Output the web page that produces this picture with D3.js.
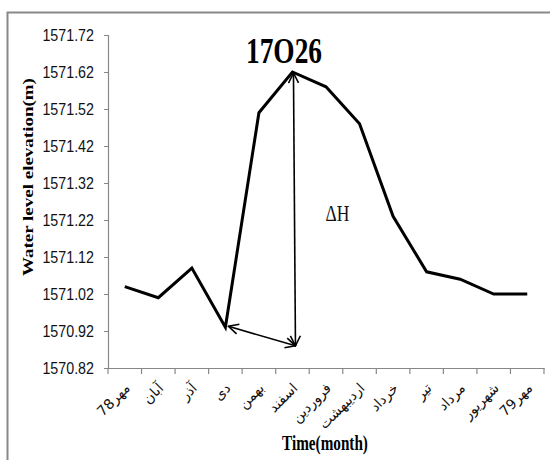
<!DOCTYPE html>
<html>
<head>
<meta charset="utf-8">
<script src="https://cdn.jsdelivr.net/npm/d3@7"></script>
<style>
  html, body { margin: 0; padding: 0; background: #fff; }
  svg { display: block; }
</style>
</head>
<body>
<svg id="chart" width="550" height="460"></svg>
<script>
// Monthly water level, well 17O26 (Mehr 1378 – Mehr 1379)
const months = ["مهر78", "آبان", "آذر", "دی", "بهمن", "اسفند", "فروردین", "اردیبهشت", "خرداد", "تیر", "مرداد", "شهریور", "مهر79"];
const levels = [1571.04, 1571.01, 1571.09, 1570.93, 1571.51, 1571.62, 1571.58, 1571.48, 1571.23, 1571.08, 1571.06, 1571.02, 1571.02];
const yTicks = [1570.82, 1570.92, 1571.02, 1571.12, 1571.22, 1571.32, 1571.42, 1571.52, 1571.62, 1571.72];
const wellName = "17O26";
const troughMonth = "دی";
const peakMonth = "اسفند";

const svg = d3.select("#chart");
const serif = "'Liberation Serif', 'Times New Roman', serif";
const squeeze = 0.76; // narrow horizontal proportion of the lettering

// outer frame (top and left edges)
svg.append("path")
  .attr("d", "M7.5,460 V12.5 H550")
  .attr("fill", "none").attr("stroke", "#888").attr("stroke-width", 2);

const x = d3.scaleBand().domain(months).range([108, 544]).padding(0);
const y = d3.scaleLinear().domain([1570.82, 1571.72]).range([368, 35]);
const cx = d => x(d) + x.bandwidth() / 2;

// axes
const yAxis = d3.axisLeft(y).tickValues(yTicks).tickSize(4).tickPadding(10).tickFormat(d3.format(".2f"));
const gy = svg.append("g").attr("transform", "translate(108,0)").call(yAxis);
gy.select(".domain").attr("stroke", "#888").attr("stroke-width", 1.2);
gy.selectAll(".tick line").attr("stroke", "#888");
gy.selectAll(".tick text")
  .attr("x", 0)
  .attr("transform", "translate(-14,0) scale(0.84,1)")
  .attr("font-family", "'Liberation Sans', Arial, sans-serif")
  .attr("font-size", 17).attr("fill", "#111");

const xAxis = d3.axisBottom(x).tickSize(0).tickFormat("");
const gx = svg.append("g").attr("transform", "translate(0,368)").call(xAxis);
gx.select(".domain").attr("stroke", "#888").attr("stroke-width", 1.2);
// tick marks on category boundaries
const bounds = months.map(m => x(m)).concat([x(months[months.length - 1]) + x.bandwidth()]);
gx.selectAll(".bound").data(bounds).join("line")
  .attr("class", "bound")
  .attr("x1", d => d).attr("x2", d => d)
  .attr("y1", 0).attr("y2", 6)
  .attr("stroke", "#888").attr("stroke-width", 1.2);

// rotated month labels
svg.append("g").selectAll("text").data(months).join("text")
  .attr("transform", d => `translate(${cx(d) + 6},${389}) rotate(-45)`)
  .attr("text-anchor", "end")
  .attr("font-family", "'DejaVu Sans', sans-serif")
  .attr("font-size", 14)
  .attr("fill", "#111")
  .text(d => d);

// water level line
const line = d3.line().x((d, i) => cx(months[i])).y(d => y(d));
svg.append("path")
  .datum(levels)
  .attr("d", line)
  .attr("fill", "none")
  .attr("stroke", "#000")
  .attr("stroke-width", 3)
  .attr("stroke-linejoin", "miter");

// ΔH annotation: double-headed arrows from trough and peak to a common corner
const defs = svg.append("defs");
defs.append("marker")
  .attr("id", "head").attr("viewBox", "0 0 12 12")
  .attr("refX", 11).attr("refY", 6)
  .attr("markerWidth", 12).attr("markerHeight", 12)
  .attr("markerUnits", "userSpaceOnUse")
  .attr("orient", "auto-start-reverse")
  .append("path").attr("d", "M1,1 L11,6 L1,11")
  .attr("fill", "none").attr("stroke", "#000").attr("stroke-width", 1.6);

const ti = months.indexOf(troughMonth), pi = months.indexOf(peakMonth);
const trough = [cx(troughMonth) + 3, y(levels[ti]) - 1];
const peak = [cx(peakMonth) + 1, y(levels[pi]) + 1];
const corner = [cx(peakMonth) + 3, y(1570.88)];

svg.append("line")
  .attr("x1", trough[0]).attr("y1", trough[1])
  .attr("x2", corner[0]).attr("y2", corner[1])
  .attr("stroke", "#000").attr("stroke-width", 1.6)
  .attr("marker-start", "url(#head)").attr("marker-end", "url(#head)");
svg.append("line")
  .attr("x1", corner[0]).attr("y1", corner[1])
  .attr("x2", peak[0]).attr("y2", peak[1])
  .attr("stroke", "#000").attr("stroke-width", 1.6)
  .attr("marker-start", "url(#head)").attr("marker-end", "url(#head)");

svg.append("text")
  .attr("transform", `translate(${cx(peakMonth) + 45},221) scale(${squeeze},1)`)
  .attr("text-anchor", "middle")
  .attr("font-family", serif).attr("font-size", 23).attr("fill", "#111")
  .text("ΔH");

// well name
svg.append("text")
  .attr("transform", `translate(284,63) scale(${squeeze},1)`)
  .attr("text-anchor", "middle")
  .attr("font-family", serif).attr("font-weight", "bold").attr("font-size", 36).attr("fill", "#000")
  .text(wellName);

// axis titles
svg.append("text")
  .attr("transform", `translate(33,177) rotate(-90) scale(1,${squeeze})`)
  .attr("text-anchor", "middle")
  .attr("font-family", serif).attr("font-weight", "bold").attr("font-size", 19).attr("fill", "#000")
  .text("Water level elevation(m)");

svg.append("text")
  .attr("transform", `translate(325,450) scale(${squeeze},1)`)
  .attr("text-anchor", "middle")
  .attr("font-family", serif).attr("font-weight", "bold").attr("font-size", 20).attr("fill", "#000")
  .text("Time(month)");
</script>
</body>
</html>
